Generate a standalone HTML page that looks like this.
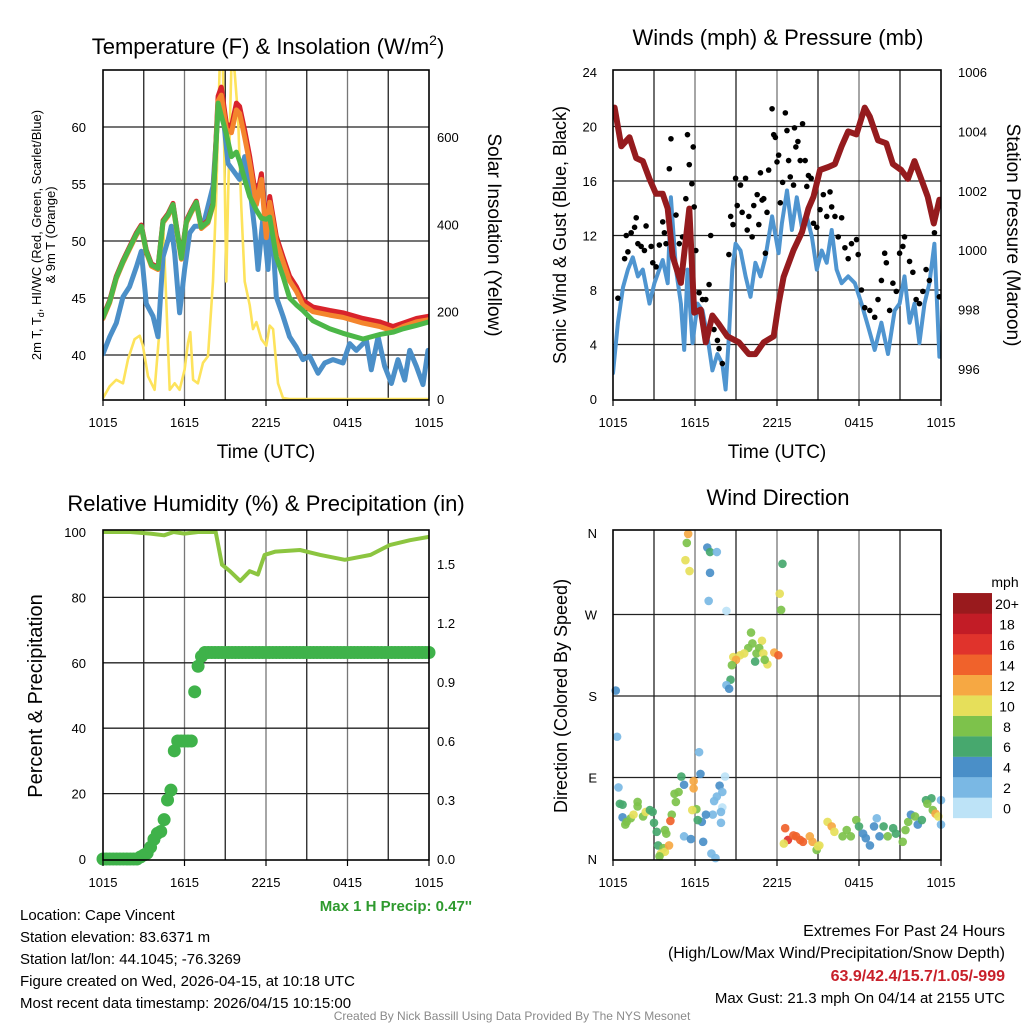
<!DOCTYPE html>
<html><head><meta charset="utf-8"><style>
html,body{margin:0;padding:0;background:#fff}
svg{display:block;font-family:"Liberation Sans",sans-serif}
</style></head><body>
<svg id="s" width="1024" height="1024" viewBox="0 0 1024 1024" xmlns="http://www.w3.org/2000/svg">
<defs>
<clipPath id="c1"><rect x="103" y="70" width="326" height="330"/></clipPath>
<clipPath id="c2"><rect x="613" y="70" width="328" height="330"/></clipPath>
<clipPath id="c3"><rect x="103" y="530" width="326" height="330"/></clipPath>
<clipPath id="c4"><rect x="613" y="530" width="328" height="330"/></clipPath>
</defs>
<g id="g1"></g>
<g id="g2"></g>
<g id="g3"></g>
<g id="g4"></g>

<text x="268" y="54" font-size="22" text-anchor="middle">Temperature (F) &amp; Insolation (W/m<tspan font-size="14" dy="-9">2</tspan><tspan dy="9">)</tspan></text>
<text x="778" y="45" font-size="22" text-anchor="middle">Winds (mph) &amp; Pressure (mb)</text>
<text x="266" y="511" font-size="22" text-anchor="middle">Relative Humidity (%) &amp; Precipitation (in)</text>
<text x="778" y="505" font-size="22" text-anchor="middle">Wind Direction</text>

<text x="266" y="458" font-size="19" text-anchor="middle">Time (UTC)</text>
<text x="777" y="458" font-size="19" text-anchor="middle">Time (UTC)</text>

<text transform="translate(41,235) rotate(-90)" font-size="13" text-anchor="middle">2m T, T<tspan font-size="9" dy="3">d</tspan><tspan dy="-3">, HI/WC (Red, Green, Scarlet/Blue)</tspan></text>
<text transform="translate(55,235) rotate(-90)" font-size="13" text-anchor="middle">&amp; 9m T (Orange)</text>
<text transform="translate(488,235) rotate(90)" font-size="19" text-anchor="middle">Solar Insolation (Yellow)</text>
<text transform="translate(566,235) rotate(-90)" font-size="18" text-anchor="middle">Sonic Wind &amp; Gust (Blue, Black)</text>
<text transform="translate(1007,235) rotate(90)" font-size="19" text-anchor="middle">Station Pressure (Maroon)</text>
<text transform="translate(42,696) rotate(-90)" font-size="20" text-anchor="middle">Percent &amp; Precipitation</text>
<text transform="translate(567,696) rotate(-90)" font-size="18" text-anchor="middle">Direction (Colored By Speed)</text>

<text x="472" y="911" font-size="15" font-weight="bold" fill="#2e9a2e" text-anchor="end">Max 1 H Precip: 0.47''</text>
<g font-size="15">
<text x="20" y="920">Location: Cape Vincent</text>
<text x="20" y="942">Station elevation: 83.6371 m</text>
<text x="20" y="964">Station lat/lon: 44.1045; -76.3269</text>
<text x="20" y="986">Figure created on Wed, 2026-04-15, at 10:18 UTC</text>
<text x="20" y="1008">Most recent data timestamp: 2026/04/15 10:15:00</text>
</g>
<g font-size="15" text-anchor="end">
<text x="1005" y="936" font-size="16">Extremes For Past 24 Hours</text>
<text x="1005" y="958" font-size="16">(High/Low/Max Wind/Precipitation/Snow Depth)</text>
<text x="1005" y="981" font-size="16" font-weight="bold" fill="#c8202a">63.9/42.4/15.7/1.05/-999</text>
<text x="1005" y="1003">Max Gust: 21.3 mph On 04/14 at 2155 UTC</text>
</g>
<text x="512" y="1020" font-size="12" fill="#8a8a8a" text-anchor="middle">Created By Nick Bassill Using Data Provided By The NYS Mesonet</text>
</svg>
<script>
// ---- data ----
const timeTickLabels = ["1015","1615","2215","0415","1015"];
const tempTicks = [40,45,50,55,60];
const solarTicks = [0,200,400,600];
const redT = [0,.49,.98,1.47,1.96,2.45,2.82,3.19,3.56,4.05,4.42,4.79,5.15,5.52,5.77,6.14,6.5,6.87,7.24,7.73,8.1,8.47,8.71,9.08,9.45,9.82,10.06,10.43,10.8,11.29,11.66,12.02,12.27,12.76,13.25,13.74,14.23,14.72,15.46,16.69,17.67,19.14,20.37,21.35,22.09,23.07,24];
const redV = [43.4,44.8,46.9,48.3,49.5,50.7,51.4,49.2,48,47.7,51.8,52.4,53.3,50.4,48.6,51.8,52.7,53.5,51.3,51.8,53.3,62.7,63.5,60.3,60,62.1,61.8,59.7,57.4,53.6,55.9,50.7,53.9,50.4,48.6,46.9,46,44.8,44.2,43.9,43.7,43.2,42.9,42.5,42.8,43.2,43.4];
const orangeV = [43.2,44.6,46.7,48.1,49.3,50.5,51.2,49,47.8,47.5,51.6,52.2,53.1,50.2,48.4,51.6,52.5,53.3,51.1,51.6,53.1,62.3,62.8,59.8,59.5,61.5,61.2,59.1,56.8,53.2,55.4,50.3,53.4,50,48.2,46.5,45.6,44.4,43.8,43.5,43.3,42.8,42.5,42.1,42.5,42.9,43.1];
const greenV = [43.3,44.7,46.8,48.2,49.4,50.6,51.3,49.1,47.9,47.6,51.7,52.3,53.2,50.3,48.5,51.7,52.6,53.4,51.2,51.7,53.2,62.1,61,59.4,57.4,57.8,57,55.4,53.9,52.7,52,51.9,52.1,48.6,46.9,45,44.4,43.9,43,42.3,41.9,41.4,41.8,42,42.3,42.6,42.9];
const dewT = [0,.49,.98,1.47,1.96,2.45,2.82,3.19,3.68,4.05,4.42,4.79,5.03,5.28,5.64,6.01,6.38,6.75,7.36,8.1,8.47,8.83,9.2,9.57,10.06,10.43,10.8,11.17,11.41,11.78,12.15,12.39,12.76,13.25,13.74,14.23,14.72,15.21,15.83,16.32,16.93,17.67,18.16,18.65,19.39,19.75,20.25,20.74,21.23,21.72,22.21,22.58,23.07,23.56,23.93];
const dewV = [40.1,41.6,42.8,45.1,46,47.7,49.1,44.5,43.4,41.6,48.6,50.1,51.3,48.9,43.7,47.5,50.7,51.3,51.3,54.8,61.5,61.2,56.8,56.2,55.4,57.4,54.8,51,47.5,52.1,47.5,52.4,45.1,43.4,41.6,40.7,39.6,39.9,38.4,39.3,39.6,39.3,41,40.4,41.3,38.7,41.6,39,37.5,39.6,37.8,40.4,39,37.4,40.4];
const solarT = [0,.49,.98,1.47,1.84,2.33,2.7,2.94,3.31,3.8,4.17,4.42,4.66,4.91,5.28,5.64,6.01,6.26,6.43,6.63,6.99,7.36,7.73,8.1,8.34,8.59,8.83,9.08,9.2,9.45,9.69,9.94,10.18,10.43,10.8,11.04,11.29,11.66,12.02,12.27,12.52,12.88,13.25,13.74,24];
const solarV = [2,29,44,36,91,137,145,122,52,21,160,408,222,21,36,21,67,129,153,44,36,83,98,269,470,765,765,269,455,765,750,649,440,269,215,160,176,137,122,168,160,36,2,0,0];

const windTicks = [0,4,8,12,16,20,24];
const presTicks = [996,998,1000,1002,1004,1006];
const windT = [0,.36,.73,1.09,1.45,1.82,2.18,2.67,3.03,3.64,4,4.24,4.61,4.97,5.21,5.45,5.82,6.18,6.55,6.91,7.27,7.64,8,8.24,8.48,8.73,8.97,9.33,9.7,10.06,10.42,10.79,11.15,11.64,12.12,12.36,12.73,13.09,13.45,13.82,14.18,14.55,14.91,15.27,15.64,16,16.36,16.73,17.21,17.7,18.18,18.67,19.15,19.64,20.12,20.61,20.97,21.33,21.7,22.06,22.42,22.79,23.15,23.52,23.88];
const windV = [1.9,5.6,8.2,9.5,10.4,9,9.5,7,8.5,10.2,8.5,14.8,9.5,7,3.6,9.5,4.1,7,6.5,4.6,2.1,3.3,2.6,.7,4.6,9.5,11.4,10.9,9,7.5,10,9,10.4,13.4,10.7,12.9,15.3,12.4,14.8,12.6,13.4,11.9,9.5,10.9,10,12.4,9.5,8.5,9,8.5,7,5.3,3.6,5.6,3.3,6.5,7,9,5.6,7,4.1,7,8.5,11.4,3.1];
const gustT = [.36,.97,.85,1.09,1.33,1.58,1.7,1.82,2.06,2.3,2.42,2.79,2.91,3.15,3.39,3.64,3.76,3.88,4.12,4.24,4.61,4.85,5.09,5.33,5.45,5.58,5.77,5.87,5.94,6.06,6.3,6.55,6.79,7.03,7.15,7.39,7.64,7.76,8,8.48,8.61,8.78,8.97,9.09,9.33,9.45,9.7,9.82,9.94,10.18,10.3,10.55,10.67,10.79,10.91,11.03,11.15,11.27,11.39,11.64,11.76,11.88,12,12.12,12.24,12.41,12.61,12.73,12.85,12.97,13.21,13.28,13.38,13.53,13.7,13.87,14.06,14.18,14.3,14.5,14.67,14.91,15.15,15.39,15.64,15.88,16,16.24,16.48,16.73,16.97,17.21,17.45,17.82,17.94,18.18,18.42,18.79,19.15,19.39,19.64,19.88,20,20.24,20.48,20.73,20.97,21.21,21.33,21.7,21.94,22.18,22.42,22.67,22.91,23.15,23.52,23.88];
const gustV = [7.4,12,10.3,10.8,12.2,12.6,13.3,11.4,11.2,10.9,12.7,11.2,10,9.7,11.3,13,12.2,11.4,16.9,19.1,13.5,11.4,11.9,14.7,19.4,17.2,15.8,18.5,14.1,10.9,7.8,7.3,7.3,8.4,12,5.1,4.3,3.7,2.6,10.6,13.4,12.8,16.2,14.2,15.7,13.7,16.2,12.4,13.4,11.9,14.2,15,12.8,16.6,14.6,14.7,10.7,13.7,16.8,21.3,19.4,19.2,17.4,17.9,14.4,15.9,21,19.7,17.5,16.3,15.7,19.9,18.5,18.9,17.5,20.2,17.5,15.6,16.4,16.2,12.9,12.6,13.9,15,13.4,15.2,14.1,13.4,11.9,13.3,11.1,10.3,11.4,11.7,10.6,8,6.7,6.5,6,7.3,8.7,10.7,10,6.5,8.5,7.9,10.7,11.2,11.9,10.1,9.3,7.3,7,7.9,9.5,8.7,12.2,7.5];
const presT = [.12,.61,1.21,1.7,2.18,2.67,3.15,3.64,4,4.36,4.97,5.58,5.94,6.42,6.79,7.27,7.76,8.36,9.21,9.94,10.42,11.03,11.76,12.12,12.48,13.21,13.82,14.3,14.67,15.15,15.76,16.24,16.73,17.21,17.82,18.42,18.79,19.39,20,20.48,21.09,21.58,22.06,22.55,23.03,23.47,23.88];
const presV = [1004.8,1003.5,1003.8,1003.1,1003,1002.4,1001.9,1001.9,1001.4,999.8,998.9,1001.4,997.9,998,996.9,997.8,997.5,997.1,996.9,996.5,996.5,996.9,997.1,998.2,999.1,1000,1000.6,1001.4,1001.8,1002.7,1002.8,1002.9,1003.5,1004,1003.9,1004.8,1004.5,1003.7,1003.6,1002.9,1002.7,1002.4,1003,1002.4,1001.8,1000.9,1001.7];

const rhTicks = [0,20,40,60,80,100];
const precipTicks = ["0.0","0.3","0.6","0.9","1.2","1.5"];
const rhT = [0,2,3.5,4.5,5.2,6,7,8.3,8.76,9.35,10.1,10.8,11.4,11.9,12.7,14.5,16,17.8,19.7,21.1,22.6,24];
const rhV = [100,100,99.5,99,100,99.5,100,100,90,88,85,88,87,93,94,94.5,93,91.5,93,96,97.5,98.5];
const precipV = [0,0,0,0,0,0,0,0,0,0,0,.01,.02,.03,.06,.1,.13,.14,.2,.3,.35,.55,.6,.6,.6,.6,.6,.85,.98,1.03,1.05,1.05,1.05,1.05,1.05,1.05,1.05,1.05,1.05,1.05,1.05,1.05,1.05,1.05,1.05,1.05,1.05,1.05,1.05,1.05,1.05,1.05,1.05,1.05,1.05,1.05,1.05,1.05,1.05,1.05,1.05,1.05,1.05,1.05,1.05,1.05,1.05,1.05,1.05,1.05,1.05,1.05,1.05,1.05,1.05,1.05,1.05,1.05,1.05,1.05,1.05,1.05,1.05,1.05,1.05,1.05,1.05,1.05,1.05,1.05,1.05,1.05,1.05,1.05,1.05,1.05,1.05];

const dirTicks = ["N","E","S","W","N"];
const dirT = [5.5,5.4,5.3,5.6,6.9,7.1,7.6,7.1,7.0,8.3,12.4,12.2,12.3,10.1,10.2,10.9,9.9,9.6,9.3,8.8,9.0,8.7,10.5,10.7,10.4,11.0,11.3,11.1,11.8,12.1,8.6,8.3,8.5,0.2,0.3,0.4,6.3,6.4,8.2,5.9,5.0,5.9,7.8,8.0,7.6,7.4,8.0,7.9,7.3,7.9,6.8,6.5,6.1,5.8,6.2,5.2,4.5,4.6,4.8,4.3,4.2,5.2,5.7,6.6,7.2,7.5,3.8,3.9,3.2,3.3,3.7,3.5,3.8,4.1,3.4,0.5,0.7,0.7,1.0,0.9,1.3,1.5,1.8,1.8,2.2,2.4,2.7,2.9,3.0,12.6,12.8,12.5,13.2,13.4,13.7,13.9,14.4,14.6,15.1,14.9,15.0,15.7,16.0,16.2,16.8,17.1,17.4,17.8,18.0,18.3,18.5,18.8,19.3,19.1,19.5,19.8,20.1,20.5,20.7,21.2,21.4,21.6,21.8,22.1,22.3,22.6,22.9,23.3,23.0,23.4,23.6,23.8,24.0,24.0];
const dirV = [359,349,330,318,344,339,339,316,285,274,326,293,275,250,238,241,233,227,225,223,220,214,227,233,218,227,215,220,228,225,198,192,188,186,135,79,118,94,91,86,91,78,81,74,69,64,57,52,49,40,49,41,55,54,43,82,72,63,74,49,42,25,22,19,6,1,32,28,30,15,12,6,8,15,3,61,60,46,41,38,45,49,63,58,47,52,54,52,40,34,21,17,26,25,21,19,25,19,15,10,14,41,36,30,25,32,25,43,36,28,23,15,45,36,25,36,25,34,28,19,32,41,49,47,38,43,65,67,61,54,50,47,65,38];
const dirSpd = [12,8,10,10,4,6,2,4,2,0.5,6,10,8,8,8,10,8,10,10,10,12,8,8,8,6,10,10,8,12,13,6,2,4,4,2,2,2,4,0.5,12,6,12,4,2,2,2,0.5,2,2,2,4,4,8,10,6,4,8,8,8,8,14,2,4,4,2,2,8,8,6,6,8,10,10,12,8,6,6,4,8,8,8,10,8,8,8,10,6,6,6,14,16,10,14,14,14,14,12,12,10,8,10,10,12,10,8,8,8,8,6,4,4,4,2,4,4,6,8,6,6,8,8,8,4,8,4,6,6,6,8,8,12,10,2,2];
const legendLabels = ["0","2","4","6","8","10","12","14","16","18","20+"];
const speedColors = ["#bde3f7","#7ab8e4","#4a8fc8","#47a86e","#7dc24b","#e6df5a","#f6a843","#f0622b","#e0332c","#c21c26","#991a1d"];

// ---- helpers ----
const NS="http://www.w3.org/2000/svg";
function mk(parent,tag,attrs){const e=document.createElementNS(NS,tag);for(const k in attrs)e.setAttribute(k,attrs[k]);parent.appendChild(e);return e;}
function axisLin(d0,d1,p0,p1){return v=>p0+(v-d0)*(p1-p0)/(d1-d0);}
function pathD(ts,vs,sx,sy){return ts.map((t,i)=>(i?"L":"M")+sx(t).toFixed(1)+","+sy(vs[i]).toFixed(1)).join("");}

function frame(g,x0,y0,w,h,hLines,clipId){
  const grid=mk(g,"g",{});
  
  
  for(let i=1;i<8;i++){const x=x0+w*i/8;
    const l=mk(grid,"line",{x1:x,x2:x,y1:y0,y2:y0+h,stroke:(i%2?"#222":"#777"),"stroke-width":1.3});
    
    }
  hLines.forEach(y=>{const l=mk(grid,"line",{x1:x0,x2:x0+w,y1:y,y2:y,stroke:"#222","stroke-width":1.3});
    
    });
  const plot=mk(g,"g",{"clip-path":"url(#"+clipId+")"});
  
  
  return plot;
}
function border(g,x0,y0,w,h){
  const r=mk(g,"rect",{x:x0,y:y0,width:w,height:h,fill:"none",stroke:"#000","stroke-width":1.6});
  
  
}
function xTicks(g,x0,w,yb){
  timeTickLabels.forEach((lab,i)=>{const x=x0+w*i/4;
    const t=mk(g,"text",{x:x,y:yb+27,"font-size":13,"text-anchor":"middle"});t.textContent=lab;
    
    
    const tk=mk(g,"line",{x1:x,x2:x,y1:yb,y2:yb+6,stroke:"#000","stroke-width":1.2});
    
    });
}
function yLabel(g,x,y,txt,anchor,name){
  const t=mk(g,"text",{x:x,y:y+5,"font-size":13,"text-anchor":anchor});t.textContent=txt;
  
  
}
function drawLine(p,ts,vs,sx,sy,color,w,name){
  const e=mk(p,"path",{d:pathD(ts,vs,sx,sy),fill:"none",stroke:color,"stroke-width":w,"stroke-linejoin":"round","stroke-linecap":"round"});
  
  
}

// ---- panel 1 ----
(function(){
  const g=document.getElementById("g1");
  const x0=103,y0=70,w=326,h=330;
  const sx=axisLin(0,24,x0,x0+w), sy=axisLin(40,60,355,127), sr=axisLin(0,600,399,137);
  const p=frame(g,x0,y0,w,h,tempTicks.map(sy),"c1");
  drawLine(p,solarT,solarV,sx,sr,"#fde35c",2.6,"insolation-line");
  drawLine(p,dewT,dewV,sx,sy,"#4b8fc8",5,"dewpoint-line");
  drawLine(p,redT,redV,sx,sy,"#d9232b",5,"temperature-line");
  drawLine(p,redT,orangeV,sx,sy,"#f4852d",5,"9m-temperature-line");
  drawLine(p,redT,greenV,sx,sy,"#4cb748",5,"heat-index-line");
  border(g,x0,y0,w,h);
  xTicks(g,x0,w,y0+h);
  tempTicks.forEach(v=>yLabel(g,86,sy(v),String(v),"end","temp-tick-label"));
  solarTicks.forEach(v=>yLabel(g,437,sr(v),String(v),"start","solar-tick-label"));
})();

// ---- panel 2 ----
(function(){
  const g=document.getElementById("g2");
  const x0=613,y0=70,w=328,h=330;
  const sx=axisLin(0,24,x0,x0+w), sy=axisLin(0,24,399,72), sp=axisLin(996,1006,369,72);
  const p=frame(g,x0,y0,w,h,windTicks.slice(1,-1).map(sy),"c2");
  drawLine(p,windT,windV,sx,sy,"#4f95d0",4,"wind-speed-line");
  gustT.forEach((t,i)=>{const c=mk(p,"circle",{cx:sx(t),cy:sy(gustV[i]),r:2.8,fill:"#000"});
    
    });
  drawLine(p,presT,presV,sx,sp,"#951b1e",6,"pressure-line");
  border(g,x0,y0,w,h);
  xTicks(g,x0,w,y0+h);
  windTicks.forEach(v=>yLabel(g,597,sy(v),String(v),"end","wind-tick-label"));
  presTicks.forEach(v=>yLabel(g,958,sp(v),String(v),"start","pressure-tick-label"));
})();

// ---- panel 3 ----
(function(){
  const g=document.getElementById("g3");
  const x0=103,y0=530,w=326,h=330;
  const sx=axisLin(0,24,x0,x0+w), sy=axisLin(0,100,859,532), sp=axisLin(0,1.5,859,564);
  const p=frame(g,x0,y0,w,h,rhTicks.slice(1,-1).map(sy),"c3");
  drawLine(p,rhT,rhV,sx,sy,"#8cc540",4,"humidity-line");
  precipV.forEach((v,i)=>{const c=mk(g,"circle",{cx:sx(i*0.25),cy:sp(v),r:6.5,fill:"#3fb24a"});
    
    });
  border(g,x0,y0,w,h);
  xTicks(g,x0,w,y0+h);
  rhTicks.forEach(v=>yLabel(g,86,sy(v),String(v),"end","humidity-tick-label"));
  precipTicks.forEach(v=>yLabel(g,437,sp(parseFloat(v)),v,"start","precip-tick-label"));
})();

// ---- panel 4 ----
(function(){
  const g=document.getElementById("g4");
  const x0=613,y0=530,w=328,h=330;
  const sx=axisLin(0,24,x0,x0+w), sy=axisLin(0,360,859,533);
  const p=frame(g,x0,y0,w,h,[90,180,270].map(sy),"c4");
  dirT.forEach((t,i)=>{const idx=Math.min(10,Math.round(dirSpd[i]/2));
    const c=mk(g,"circle",{cx:sx(t),cy:sy(dirV[i]),r:4.3,fill:speedColors[idx],"fill-opacity":0.92});
    
    });
  border(g,x0,y0,w,h);
  xTicks(g,x0,w,y0+h);
  dirTicks.forEach((lab,i)=>yLabel(g,597,sy(i*90),lab,"end","direction-tick-label"));
  const lg=mk(g,"g",{});
  
  
  const ut=mk(lg,"text",{x:1005,y:587,"font-size":14,"text-anchor":"middle"});ut.textContent="mph";
  
  
  legendLabels.forEach((lab,i)=>{const y=818-(i+1)*20.45;
    const r=mk(lg,"rect",{x:953,y:y,width:39,height:20.6,fill:speedColors[i]});
    
    
    const t=mk(lg,"text",{x:1007,y:y+16,"font-size":14,"text-anchor":"middle"});t.textContent=lab;
    
    });
})();
</script>
</body></html>
